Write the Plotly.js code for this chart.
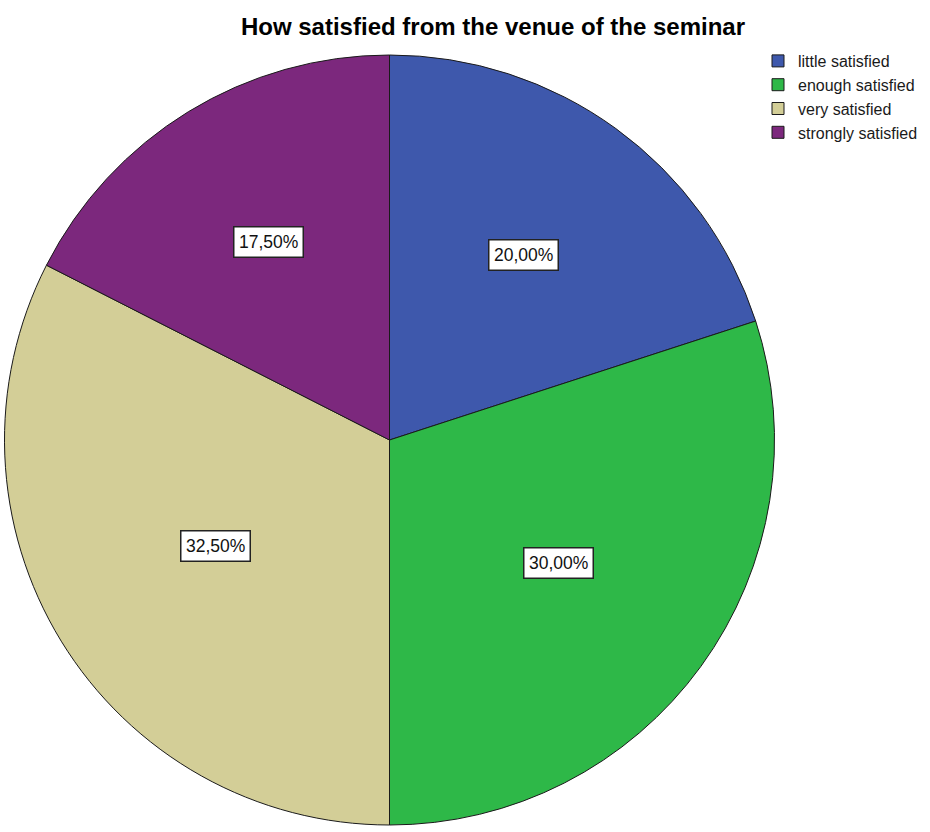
<!DOCTYPE html>
<html>
<head>
<meta charset="utf-8">
<script src="https://cdn.plot.ly/plotly-3.0.1.min.js"></script>
<style>
  html, body { margin: 0; padding: 0; background: #ffffff; }
  #chart { width: 930px; height: 832px; }
</style>
</head>
<body>
<div id="chart"></div>
<script>
// ---- data ----
var categories = ["little satisfied", "enough satisfied", "very satisfied", "strongly satisfied"];
var percentValues = [20.00, 30.00, 32.50, 17.50];
var percentLabels = ["20,00%", "30,00%", "32,50%", "17,50%"];
var sliceColors = ["#3E58AC", "#2EB848", "#D3CE97", "#7C287D"];
var chartTitle = "How satisfied from the venue of the seminar";

// ---- layout constants ----
var W = 930, H = 832;
var cx = 389.5, cy = 440, R = 385;       // pie centre and radius in pixels
var labelScale = 0.95;                    // labels sit slightly inside each sector's centroid

var domX = [(cx - R) / W, (cx + R) / W];
var domY = [(H - cy - R) / H, (H - cy + R) / H];

var trace = {
  type: "pie",
  labels: categories,
  values: percentValues,
  sort: false,
  direction: "clockwise",
  rotation: 0,
  textinfo: "none",
  hoverinfo: "label+percent",
  marker: { colors: sliceColors, line: { color: "#1a1a1a", width: 1 } },
  domain: { x: domX, y: domY }
};

// boxed percentage labels, placed near the centroid of each sector
var total = percentValues.reduce(function (a, b) { return a + b; }, 0);
var annotations = [];
var cum = 0;
for (var i = 0; i < percentValues.length; i++) {
  var half = percentValues[i] / total * Math.PI;           // half of the sector angle
  var mid = (cum + percentValues[i] / 2) / total * 2 * Math.PI;
  cum += percentValues[i];
  var rc = labelScale * 2 * R * Math.sin(half) / (3 * half); // sector centroid distance
  var px = cx + rc * Math.sin(mid);
  var py = cy - rc * Math.cos(mid);
  annotations.push({
    xref: "paper", yref: "paper",
    x: px / W, y: 1 - py / H,
    xanchor: "center", yanchor: "middle",
    text: percentLabels[i],
    showarrow: false,
    font: { family: "Arial, 'Liberation Sans', sans-serif", size: 17.5, color: "#111111" },
    bgcolor: "#ffffff",
    bordercolor: "#222222",
    borderwidth: 1.5,
    borderpad: 4.5
  });
}

var layout = {
  width: W, height: H,
  margin: { l: 0, r: 0, t: 0, b: 0, pad: 0 },
  paper_bgcolor: "#ffffff",
  plot_bgcolor: "#ffffff",
  title: {
    text: chartTitle,
    font: { family: "Arial, 'Liberation Sans', sans-serif", size: 24, color: "#000000", weight: "bold" },
    xref: "container", yref: "container",
    x: 493 / W, xanchor: "center",
    y: 1 - 27 / H, yanchor: "middle"
  },
  showlegend: true,
  legend: {
    x: 758 / W, xanchor: "left",
    y: 1 - 44 / H, yanchor: "top",
    bgcolor: "rgba(0,0,0,0)",
    borderwidth: 0,
    font: { family: "Arial, 'Liberation Sans', sans-serif", size: 16, color: "#1a1a1a" },
    itemwidth: 30,
    tracegroupgap: 0
  },
  annotations: annotations
};

Plotly.newPlot("chart", [trace], layout, { displayModeBar: false, staticPlot: true });
</script>
</body>
</html>
